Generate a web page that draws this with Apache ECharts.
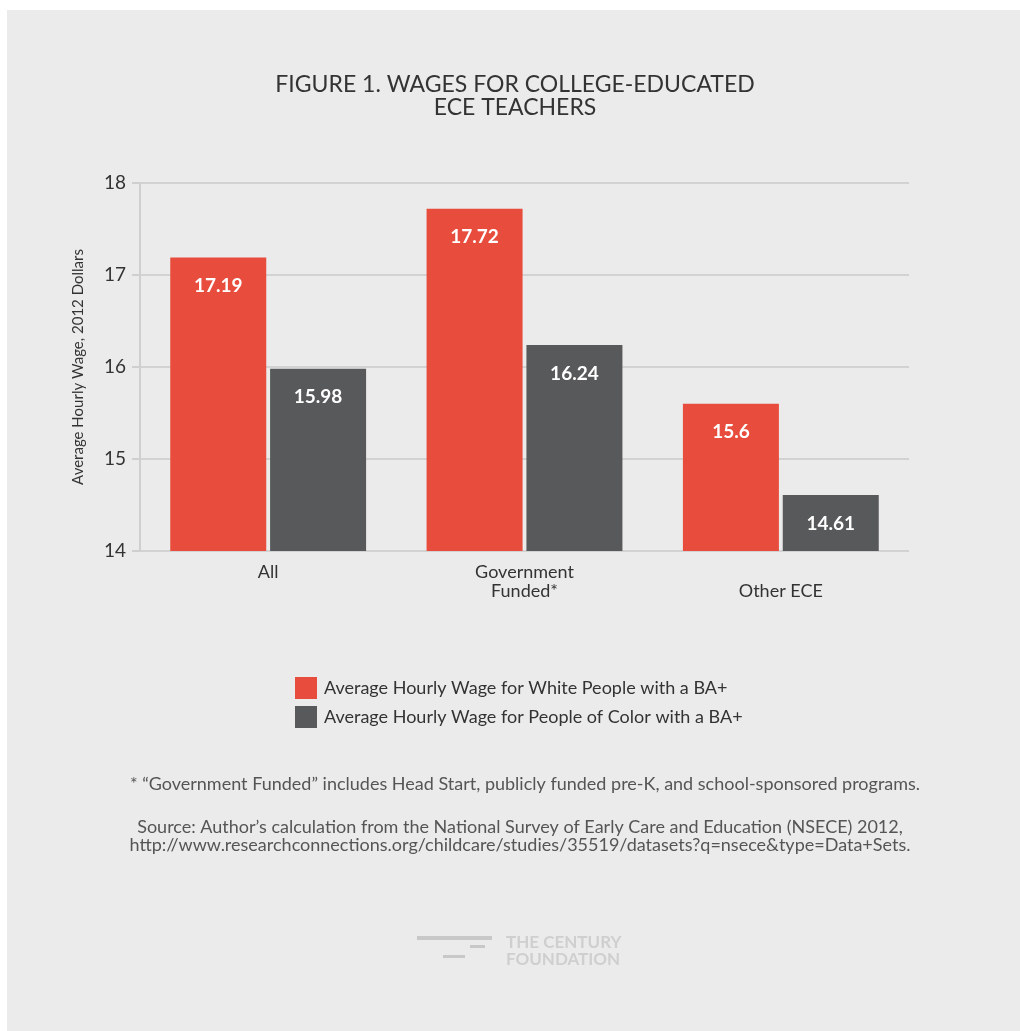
<!DOCTYPE html>
<html><head><meta charset="utf-8">
<script src="https://cdn.jsdelivr.net/npm/echarts@6/dist/echarts.min.js"></script>
<style>html,body{margin:0;padding:0;background:#fff}#c{width:1020px;height:1031px}</style>
</head><body><div id="c"></div>
<script>
var categories = ['All', 'Government\nFunded*', '\nOther ECE'];
var whiteWage = [17.19, 17.72, 15.6];
var pocWage = [15.98, 16.24, 14.61];
var seriesNames = ['Average Hourly Wage for White People with a BA+', 'Average Hourly Wage for People of Color with a BA+'];
var yTicks = [14, 15, 16, 17, 18];

var chart = echarts.init(document.getElementById('c'));
var FONT = 'Lato';
chart.setOption({
  backgroundColor: '#ffffff',
  animation: false,
  textStyle: {fontFamily: FONT},
  graphic: [
    {type: 'rect', z: -10, shape: {x: 7, y: 10, width: 1013, height: 1021}, style: {fill: '#ebebeb'}},
    {type: 'text', style: {x: 515, y: 73, text: 'FIGURE 1. WAGES FOR COLLEGE-EDUCATED\nECE TEACHERS', font: '23px Lato', fill: '#333', textAlign: 'center', lineHeight: 23}},
    {type: 'text', style: {x: 525, y: 775, text: '* \u201cGovernment Funded\u201d includes Head Start, publicly funded pre-K, and school-sponsored programs.', font: '18px Lato', fill: '#555', textAlign: 'center'}},
    {type: 'text', style: {x: 520, y: 818, text: 'Source: Author\u2019s calculation from the National Survey of Early Care and Education (NSECE) 2012,\nhttp://www.researchconnections.org/childcare/studies/35519/datasets?q=nsece&type=Data+Sets.', font: '18px Lato', fill: '#555', textAlign: 'center', lineHeight: 18}},
    {type: 'rect', shape: {x: 417, y: 936, width: 75, height: 4}, style: {fill: '#c8c8c8'}},
    {type: 'rect', shape: {x: 470, y: 945, width: 15, height: 3}, style: {fill: '#c8c8c8'}},
    {type: 'rect', shape: {x: 443, y: 955, width: 22, height: 3}, style: {fill: '#c8c8c8'}},
    {type: 'text', style: {x: 506, y: 934, text: 'THE CENTURY\nFOUNDATION', font: 'bold 17px Lato', fill: '#cfcfcf', lineHeight: 17}}
  ],
  legend: {
    orient: 'vertical', left: 290, top: 672, itemWidth: 22, itemHeight: 22, itemGap: 7,
    icon: 'rect',
    textStyle: {fontSize: 18, color: '#333', fontFamily: FONT, padding: [0, 0, 0, 2]},
    data: seriesNames
  },
  grid: {left: 140, right: 111, top: 183, bottom: 480},
  xAxis: {
    type: 'category', data: categories,
    axisLine: {show: false}, axisTick: {show: false},
    axisLabel: {fontSize: 18, color: '#333', margin: 12, lineHeight: 19, fontFamily: FONT}
  },
  yAxis: {
    type: 'value', min: yTicks[0], max: yTicks[yTicks.length - 1], interval: 1,
    name: 'Average Hourly Wage, 2012 Dollars', nameLocation: 'middle', nameGap: 54,
    nameTextStyle: {fontSize: 15, color: '#333', fontFamily: FONT},
    axisLine: {show: true, lineStyle: {color: '#cfcfcf', width: 2}},
    axisTick: {show: true, length: 8, lineStyle: {color: '#cfcfcf', width: 2}},
    axisLabel: {fontSize: 19, color: '#333', margin: 14, fontFamily: FONT},
    splitLine: {lineStyle: {color: '#d2d2d2', width: 2}}
  },
  series: [
    {name: seriesNames[0], type: 'bar', data: whiteWage, barWidth: 96, barGap: '4%',
     itemStyle: {color: '#e84c3d'},
     label: {show: true, position: 'insideTop', distance: 19, color: '#fff', fontSize: 19, fontWeight: 'bold', fontFamily: FONT}},
    {name: seriesNames[1], type: 'bar', data: pocWage, barWidth: 96,
     itemStyle: {color: '#58595b'},
     label: {show: true, position: 'insideTop', distance: 19, color: '#fff', fontSize: 19, fontWeight: 'bold', fontFamily: FONT}}
  ]
});
</script></body></html>
